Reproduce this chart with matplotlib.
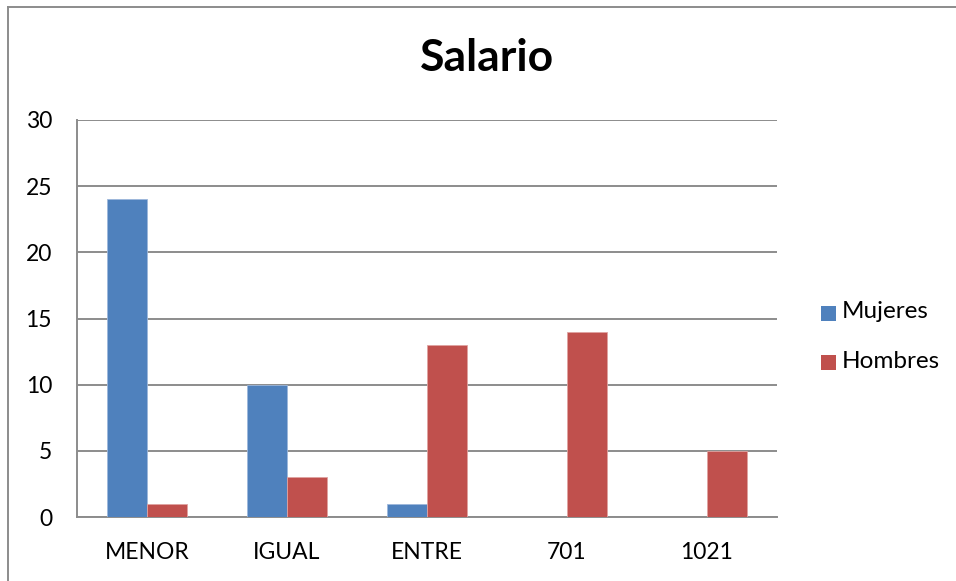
import numpy as np
import matplotlib
matplotlib.use("Agg")
import matplotlib.pyplot as plt
from matplotlib.lines import Line2D
from matplotlib.patches import Rectangle

# data
categories = ["MENOR", "IGUAL", "ENTRE", "701", "1021"]
mujeres = [24, 10, 1, 0, 0]
hombres = [1, 3, 13, 14, 5]
yticks = [0, 5, 10, 15, 20, 25, 30]
series_names = ["Mujeres", "Hombres"]

BLUE = "#4F81BD"
RED = "#C0504D"
GRID = "#8C8C8C"

plt.rcParams['font.family'] = ['Lato', 'DejaVu Sans']

W, H = 956, 581
fig = plt.figure(figsize=(W/100, H/100), dpi=100)
ax = fig.add_axes([77/W, 1-517/H, 700/W, 397/H])

x = np.arange(len(categories))
w = 40/140
ax.bar(x - w/2, mujeres, width=w, color=BLUE, edgecolor="#9DB7DB", linewidth=0.6, zorder=3)
ax.bar(x + w/2, hombres, width=w, color=RED, edgecolor="#E0A3A1", linewidth=0.6, zorder=3)

ax.set_xlim(-0.5, len(categories) - 0.5)
ax.set_ylim(0, 30)
ax.set_yticks(yticks)
ax.set_xticks(x)
ax.set_xticklabels(categories)
ax.tick_params(axis='both', length=0, labelsize=16.5, colors='black')
ax.tick_params(axis='y', pad=18)
ax.tick_params(axis='x', pad=18)

ax.yaxis.grid(True, color=GRID, linewidth=1.4, zorder=0)
ax.set_axisbelow(True)
for s in ['top', 'right']:
    ax.spines[s].set_visible(False)
for s in ['left', 'bottom']:
    ax.spines[s].set_color(GRID)
    ax.spines[s].set_linewidth(1.4)

fig.text(487/W, 1-58/H, "Salario", ha='center', va='center', fontsize=32, fontweight='bold')

# legend, drawn by hand to sit where the reference has it
for i, (name, col) in enumerate(zip(series_names, [BLUE, RED])):
    yc = 313 + 49*i
    fig.add_artist(Rectangle((821/W, 1-(yc+7.5)/H), 15/W, 15/H, transform=fig.transFigure,
                             facecolor=col, edgecolor='none'))
    fig.text(842/W, 1-(yc-1)/H, name, ha='left', va='center', fontsize=17.5)

# chart area border (left and top edges visible)
fig.add_artist(Line2D([8/W, 8/W], [0, 1-7/H], transform=fig.transFigure, color=GRID, linewidth=1.4))
fig.add_artist(Line2D([8/W, 1], [1-7/H, 1-7/H], transform=fig.transFigure, color=GRID, linewidth=1.4))

fig.savefig("out.png", dpi=100)
